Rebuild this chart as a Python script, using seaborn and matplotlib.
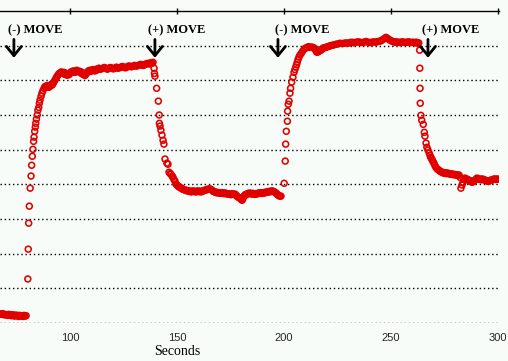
import numpy as np
import pandas as pd
import seaborn as sns
import matplotlib.pyplot as plt

# readings (seconds, arbitrary signal units; gridlines at whole units)
base_t = [67.5, 68.0, 68.5, 69.0, 69.5, 70.0, 70.5, 71.0, 71.5, 72.0, 72.5, 73.0, 73.5,
          74.0, 74.5, 75.0, 75.5, 76.0, 76.5, 77.0, 77.5, 78.0, 78.5, 79.0, 79.5]
base_v = [0.26, 0.25, 0.27, 0.24, 0.25, 0.23, 0.24, 0.22, 0.25, 0.23, 0.21, 0.24, 0.22,
          0.20, 0.23, 0.21, 0.22, 0.19, 0.22, 0.20, 0.21, 0.19, 0.22, 0.20, 0.21]

rise1_t = [80.3, 80.5, 80.7, 81.0, 81.4, 81.8, 82.1, 82.4, 82.7, 83.0, 83.2, 83.5, 83.8,
           84.0, 84.3, 84.7, 85.0, 85.4, 85.7, 86.0]
rise1_v = [1.27, 2.13, 2.88, 3.37, 3.89, 4.24, 4.55, 4.81, 5.01, 5.24, 5.36, 5.53, 5.65,
           5.76, 5.88, 6.00, 6.14, 6.22, 6.34, 6.43]

high1_t = [86.5, 86.9, 87.4, 87.9, 88.3, 88.8, 89.2, 89.7, 90.2, 90.7, 91.1, 91.6, 92.0,
           92.5, 93.0, 93.5, 93.9, 94.4, 94.8, 95.3, 95.8, 96.3, 96.7, 97.2, 97.6, 98.1,
           98.6, 99.1, 99.5, 100.0, 100.4, 100.9, 101.4, 101.9, 102.3, 102.8, 103.2,
           103.7, 104.2, 104.7, 105.1, 105.6, 106.1, 106.6, 107.0, 107.5, 107.9, 108.4,
           108.9, 109.4, 109.8, 110.3, 110.7, 111.2, 111.7, 112.2, 112.6, 113.1, 113.5,
           114.0, 114.7, 115.4, 116.1, 116.8, 117.5, 118.2, 118.9, 119.6, 120.3, 121.0,
           121.7, 122.4, 123.1, 123.8, 124.5, 125.2, 125.9, 126.6, 127.3, 128.0, 128.7,
           129.5, 130.2, 130.9, 131.6, 132.3, 133.0, 133.7, 134.4, 135.1, 135.8, 136.5,
           137.0, 137.4, 137.9, 138.3, 138.8]
high1_v = [6.54, 6.63, 6.71, 6.77, 6.82, 6.80, 6.85, 6.83, 6.80, 6.83, 6.88, 6.86, 6.90,
           6.95, 7.01, 7.06, 7.11, 7.15, 7.19, 7.20, 7.24, 7.23, 7.21, 7.23, 7.17, 7.20,
           7.15, 7.18, 7.16, 7.20, 7.24, 7.23, 7.27, 7.26, 7.23, 7.26, 7.29, 7.26,
           7.24, 7.26, 7.21, 7.23, 7.17, 7.18, 7.14, 7.18, 7.22, 7.26, 7.28, 7.29,
           7.26, 7.29, 7.31, 7.29, 7.27, 7.32, 7.30, 7.32, 7.35, 7.32, 7.33, 7.35,
           7.37, 7.35, 7.32, 7.35, 7.37, 7.35, 7.33, 7.35, 7.38, 7.35, 7.36, 7.38,
           7.40, 7.38, 7.36, 7.38, 7.41, 7.41, 7.39, 7.41, 7.43, 7.41, 7.42, 7.44,
           7.46, 7.44, 7.43, 7.46, 7.48, 7.49, 7.47, 7.49, 7.51, 7.49, 7.52]

drop1_t = [139.3, 139.5, 139.7, 140.5, 141.3, 141.7, 141.8, 142.1, 142.5, 143.0, 143.5,
           143.9, 144.4, 145.3, 145.8, 146.3, 146.8, 147.2, 147.7, 148.1, 148.6, 149.1,
           149.5, 150.0]
drop1_v = [7.35, 7.20, 7.12, 6.77, 6.40, 6.00, 5.76, 5.68, 5.56, 5.42, 5.27,
           5.16, 4.73, 4.61, 4.58, 4.35, 4.31, 4.29, 4.24, 4.21, 4.14, 4.09,
           4.01, 3.98]

low1_t = [150.5, 151.0, 151.4, 151.9, 152.4, 152.8, 153.3, 153.8, 154.2, 154.7, 155.2,
          155.6, 156.1, 156.6, 157.0, 157.5, 158.0, 158.4, 158.9, 159.4, 159.8, 160.3,
          160.8, 161.2, 161.7, 162.2, 162.6, 163.1, 163.6, 164.0, 164.5, 165.0, 165.4,
          165.9, 166.4, 166.9, 167.3, 167.8, 168.3, 168.7, 169.2, 169.7, 170.1, 170.6,
          171.1, 171.5, 172.0, 172.4, 172.9, 173.4, 173.8, 174.3, 174.8, 175.2, 175.7,
          176.2, 176.6, 177.1, 177.6, 178.0, 178.5, 179.0, 179.5, 179.9, 180.4, 180.8,
          181.3, 181.8, 182.2, 182.7, 183.2, 183.6, 184.1, 184.6, 185.0, 185.5, 186.0,
          186.4, 186.9, 187.4, 187.8, 188.3, 188.8, 189.2, 189.7, 190.2, 190.7, 191.1,
          191.6, 192.1, 192.5, 193.0, 193.5, 193.9, 194.4, 194.9, 195.3, 195.8, 196.3,
          196.7, 197.2, 197.7, 198.1, 198.6]
low1_v = [3.95, 3.92, 3.92, 3.89, 3.87, 3.86, 3.85, 3.83, 3.83, 3.81, 3.82,
          3.80, 3.80, 3.78, 3.80, 3.81, 3.79, 3.80, 3.78, 3.80, 3.81, 3.79,
          3.80, 3.78, 3.80, 3.81, 3.82, 3.83, 3.84, 3.85, 3.86, 3.86, 3.87,
          3.85, 3.83, 3.80, 3.79, 3.78, 3.76, 3.77, 3.75, 3.76, 3.75, 3.74,
          3.76, 3.75, 3.73, 3.75, 3.74, 3.72, 3.73, 3.72, 3.72, 3.70, 3.73,
          3.72, 3.71, 3.72, 3.69, 3.66, 3.63, 3.62, 3.60, 3.57, 3.54, 3.58,
          3.66, 3.70, 3.69, 3.72, 3.74, 3.73, 3.75, 3.73, 3.72, 3.74, 3.72,
          3.71, 3.73, 3.72, 3.74, 3.75, 3.75, 3.76, 3.74, 3.75, 3.75, 3.77,
          3.76, 3.78, 3.79, 3.78, 3.80, 3.79, 3.81, 3.80, 3.79, 3.77, 3.75,
          3.72, 3.69, 3.67, 3.66, 3.66]

rise2_t = [200.1, 200.6, 200.8, 201.1, 201.6, 201.7, 202.0, 202.4, 202.8, 203.1, 203.6,
           204.2, 204.7, 205.1, 205.5, 205.9, 206.2, 206.6, 207.0, 207.5, 208.1, 208.7,
           209.4, 210.1]
rise2_v = [4.03, 4.67, 5.16, 5.53, 5.82, 6.11, 6.31, 6.40, 6.63, 6.77, 6.95,
           7.09, 7.23, 7.31, 7.38, 7.45, 7.52, 7.60, 7.67, 7.73, 7.78, 7.84,
           7.90, 7.93]

high2_t = [210.8, 211.5, 212.2, 212.9, 213.6, 214.1, 214.5, 215.0, 215.4, 215.9, 216.4,
           216.8, 217.3, 217.8, 218.2, 218.9, 219.6, 220.3, 221.0, 221.7, 222.4, 223.3,
           224.3, 225.2, 226.2, 227.1, 228.1, 229.0, 229.9, 230.9, 231.8, 232.8, 233.7,
           234.6, 235.5, 236.5, 237.4, 238.3, 239.3, 240.2, 241.1, 242.1, 243.0, 243.9,
           244.9, 245.6, 246.3, 247.0, 247.7, 248.4, 249.1, 249.8, 250.5, 251.2, 251.9,
           252.6, 253.3, 254.0, 254.7, 255.4, 256.1, 256.8, 257.5, 258.2, 258.9, 259.6,
           260.3, 261.0, 261.7, 262.2, 262.6, 263.0]
high2_v = [7.95, 7.97, 7.95, 7.96, 7.95, 7.93, 7.90, 7.85, 7.81, 7.82, 7.84,
           7.86, 7.87, 7.90, 7.93, 7.94, 7.95, 7.97, 7.98, 8.00, 8.01, 8.02,
           8.04, 8.05, 8.07, 8.06, 8.07, 8.08, 8.07, 8.09, 8.10, 8.08, 8.10,
           8.11, 8.10, 8.09, 8.10, 8.12, 8.10, 8.09, 8.10, 8.11, 8.10, 8.12,
           8.13, 8.15, 8.18, 8.21, 8.24, 8.21, 8.18, 8.15, 8.13, 8.11, 8.10,
           8.11, 8.10, 8.09, 8.10, 8.11, 8.10, 8.09, 8.10, 8.11, 8.10, 8.09,
           8.10, 8.08, 8.10, 8.09, 8.07, 8.08]

drop2_t = [263.4, 263.5, 263.6, 263.7, 264.0, 264.4, 265.1, 265.6, 265.9, 266.4, 266.8,
           267.3, 267.9, 268.3, 268.6, 269.0, 269.3, 269.7, 270.1, 270.5, 270.9, 271.4,
           271.9]
drop2_v = [7.87, 7.35, 6.77, 6.34, 5.99, 5.85, 5.73, 5.50, 5.39, 5.19, 5.07,
           4.99, 4.90, 4.83, 4.78, 4.74, 4.70, 4.65, 4.61, 4.55, 4.50, 4.46,
           4.43]

low2_t = [272.4, 272.9, 273.3, 273.8, 274.3, 274.7, 275.2, 275.7, 276.1, 276.6, 277.1,
          277.5, 278.0, 278.5, 279.0, 279.5, 280.0, 280.4, 280.9, 281.4, 281.8, 282.3,
          282.7, 283.2, 283.7, 284.1, 284.6, 285.1, 285.5, 286.0, 286.5, 287.0, 287.4,
          287.9, 288.4, 288.8, 289.3, 289.8, 290.2, 290.7, 291.1, 291.6, 292.1, 292.5,
          293.0, 293.5, 294.0, 294.4, 294.9, 295.3, 295.8, 296.3, 296.7, 297.2, 297.7,
          298.1, 298.6, 299.1, 299.5, 300.0]
low2_v = [4.41, 4.38, 4.37, 4.35, 4.33, 4.34, 4.32, 4.31, 4.33, 4.32, 4.30,
          4.31, 4.29, 4.30, 4.28, 4.29, 4.27, 4.28, 4.27, 4.26, 4.27, 4.20,
          3.89, 3.98, 4.06, 4.14, 4.18, 4.16, 4.15, 4.13, 4.12, 4.10, 4.08,
          4.06, 4.08, 4.10, 4.12, 4.15, 4.18, 4.16, 4.15, 4.15, 4.13, 4.15,
          4.15, 4.13, 4.12, 4.11, 4.10, 4.09, 4.09, 4.11, 4.12, 4.12, 4.14,
          4.15, 4.15, 4.14, 4.15, 4.15]

event_times = [73.8, 139.7, 197.2, 267.3]
event_labels = ['(-) MOVE', '(+) MOVE', '(-) MOVE', '(+) MOVE']
label_times = [71.0, 136.5, 195.8, 264.5]

x_ticks = [100, 150, 200, 250, 300]

df = pd.DataFrame({
    'Seconds': base_t + rise1_t + high1_t + drop1_t + low1_t + rise2_t + high2_t + drop2_t + low2_t,
    'Signal': base_v + rise1_v + high1_v + drop1_v + low1_v + rise2_v + high2_v + drop2_v + low2_v,
})

sns.set_theme(style='white')
bg = '#f8fcf8'
fig = plt.figure(figsize=(5.08, 3.61), dpi=100, facecolor=bg)
ax = fig.add_axes([0.0, 38 / 361, 499 / 508, 312 / 361])
ax.set_facecolor(bg)

for yv in range(0, 9):
    ax.axhline(yv, color='black', lw=1.0, ls=(0, (1, 2)), zorder=1)

sns.scatterplot(data=df, x='Seconds', y='Signal', ax=ax, marker='o', s=18,
                facecolor='none', edgecolor='#e00000', linewidth=1.15, zorder=3)

for t, tl, lab in zip(event_times, label_times, event_labels):
    ax.text(tl, 8.44, lab, fontsize=9, fontweight='bold', family='Liberation Serif',
            ha='left', va='center', color='black')
    ax.annotate('', xy=(t, 7.65), xytext=(t, 8.18),
                arrowprops=dict(arrowstyle='->,head_length=0.55,head_width=0.45',
                                lw=2.0, color='black', mutation_scale=12,
                                shrinkA=0, shrinkB=0))

ax.set_xlim(67.3, 300.5)
ax.set_ylim(0, 9)
ax.set_xticks(x_ticks)
ax.set_xticklabels([str(v) for v in x_ticks], family='Liberation Sans', fontsize=8)
ax.set_yticks([])
ax.tick_params(axis='x', bottom=False, top=True, direction='inout', length=5,
               width=1, color='black', pad=5)
ax.set_xlabel('')
ax.set_ylabel('')
ax.text(150, -0.83, 'Seconds', family='Liberation Serif', fontsize=10,
        ha='center', va='center', color='black')

for side in ['left', 'right', 'bottom']:
    ax.spines[side].set_visible(False)
ax.spines['top'].set_color('black')
ax.spines['top'].set_linewidth(1.0)

fig.savefig('out.png', dpi=100, facecolor=bg)
